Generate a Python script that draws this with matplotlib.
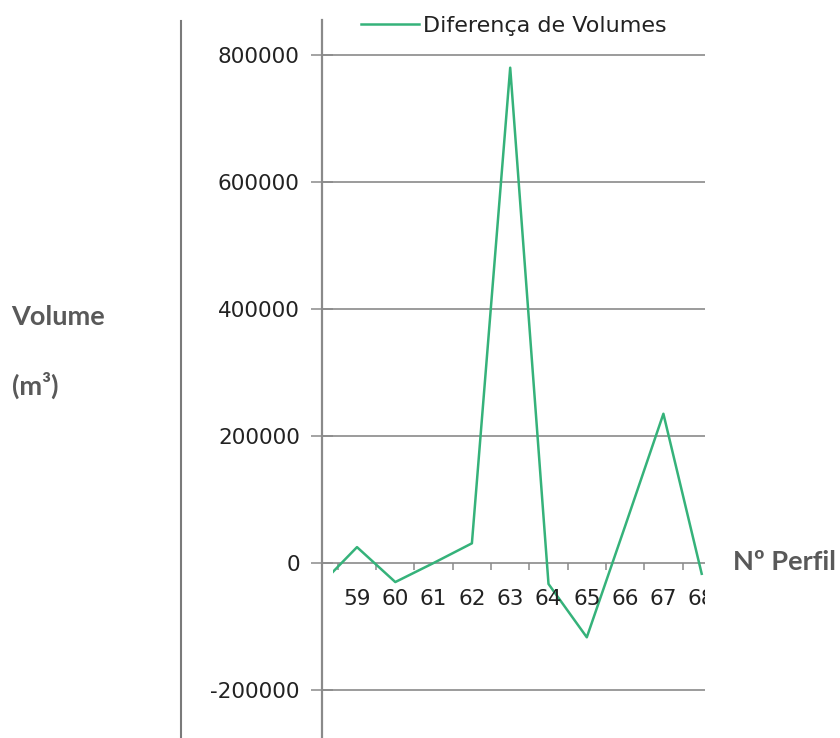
import matplotlib
matplotlib.use("Agg")
import matplotlib.pyplot as plt
import numpy as np
from matplotlib.lines import Line2D
from matplotlib.patches import Rectangle
from matplotlib.transforms import offset_copy

# ---- data ----
categories = [58, 59, 60, 61, 62, 63, 64, 65, 66, 67, 68]
values = [-37000, 25000, -30000, 0, 31000, 780000, -33000, -117000, 58000, 235000, -17000]
series_name = "Diferença de Volumes"
yticks = [-200000, 0, 200000, 400000, 600000, 800000]
ylabel_line1 = "Volume"
ylabel_line2 = "(m³)"
xlabel = "Nº Perfil"

W, H = 840, 738
fig = plt.figure(figsize=(W / 100, H / 100), dpi=100)
fig.patch.set_facecolor("white")

# axes geometry (pixels)
ax_left, ax_right, ax_top = 322, 705, 20
ax = fig.add_axes([ax_left / W, 0, (ax_right - ax_left) / W, (H - ax_top) / H])
ax.set_facecolor("white")

px_per_200k = 127.0
zero_y = 563
ymin = -(H - zero_y) / px_per_200k * 200000
ymax = (zero_y - ax_top) / px_per_200k * 200000
ax.set_ylim(ymin, ymax)

cat_px = 38.3
c59_x = 357
xmin = 59 - (c59_x - ax_left) / cat_px
xmax = 59 + (ax_right - c59_x) / cat_px
ax.set_xlim(xmin, xmax)

grey = "#8a8a8a"
for s in ["top", "right", "bottom"]:
    ax.spines[s].set_visible(False)
ax.spines["left"].set_color(grey)
ax.spines["left"].set_linewidth(1.6)

ax.set_yticks(yticks)
ax.set_yticklabels([str(v) for v in yticks])
ax.tick_params(axis="y", direction="inout", length=16, width=1.1, color=grey,
               labelsize=15.5, labelcolor="#222222", pad=8)
ax.yaxis.grid(True, color=grey, linewidth=1.2)
ax.set_xticks([])
ax.set_axisbelow(True)

# clip region for the series and category labels
clip_left = 59 - (c59_x - 333) / cat_px
clip_rect = Rectangle((clip_left, ymin), xmax - clip_left, ymax - ymin,
                      transform=ax.transData, facecolor="none", edgecolor="none")

# category tick marks (between categories, hanging below the zero line)
val_per_px = (ymax - ymin) / (H - ax_top)
bounds = np.array(categories[:-1]) + 0.5
ax.vlines(bounds, -7 * val_per_px, 0, color=grey, linewidth=1.1)

# category labels
lab_tr = offset_copy(ax.transData, fig=fig, x=0, y=-26, units="dots")
for c in categories:
    t = ax.text(c, 0, str(c), transform=lab_tr, ha="center", va="top",
                fontsize=15.5, color="#222222", clip_on=True)
    t.set_clip_path(clip_rect)

line, = ax.plot(categories, values, color="#35b27a", linewidth=1.8,
                label=series_name)
line.set_clip_path(clip_rect)

leg = ax.legend(loc="center left", bbox_to_anchor=(361 / W, 1 - 26 / H),
                bbox_transform=fig.transFigure, frameon=False, fontsize=16,
                handlelength=2.6, handletextpad=0.2, borderpad=0,
                borderaxespad=0)
for txt in leg.get_texts():
    txt.set_color("#222222")

# page line on the left
fig.add_artist(Line2D([181 / W, 181 / W], [0, 1 - 21 / H],
                      transform=fig.transFigure, color="#7a7a7a", linewidth=1.5))

lab_color = "#595959"
fig.text(105 / W, 1 - 325 / H, ylabel_line1, ha="right", va="baseline",
         fontsize=19.5, fontweight="bold", color=lab_color, family="Lato")
fig.text(12 / W, 1 - 395 / H, ylabel_line2, ha="left", va="baseline",
         fontsize=19.5, fontweight="bold", color=lab_color, family="Lato")
fig.text(733 / W, 1 - 570 / H, xlabel, ha="left", va="baseline",
         fontsize=19.5, fontweight="bold", color=lab_color, family="Lato")

fig.savefig("out.png", dpi=100, facecolor="white")
